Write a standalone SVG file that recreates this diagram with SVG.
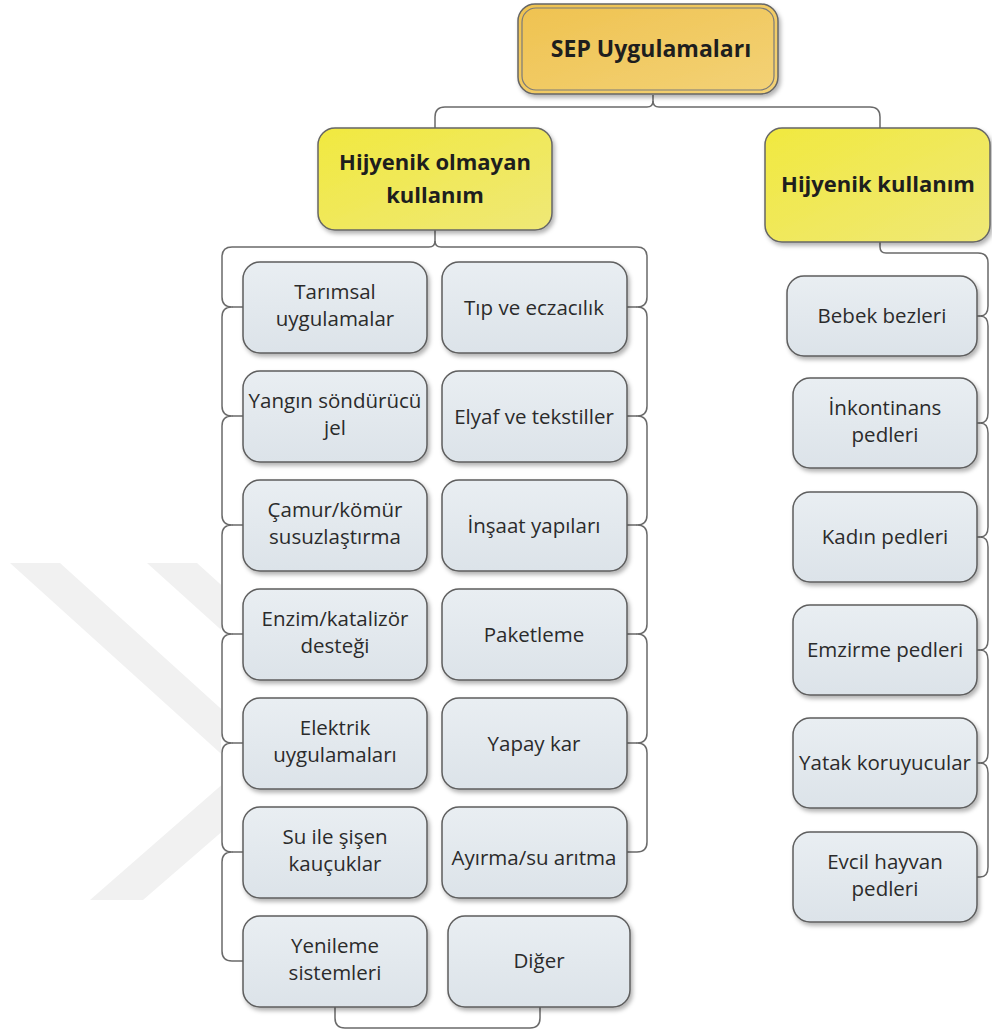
<svg xmlns="http://www.w3.org/2000/svg" width="992" height="1034" viewBox="0 0 992 1034">
  <defs>
    <linearGradient id="gGold" x1="0" y1="0" x2="1" y2="1">
      <stop offset="0" stop-color="#efc24f"/>
      <stop offset="1" stop-color="#f3d277"/>
    </linearGradient>
    <linearGradient id="gYellow" x1="0" y1="0" x2="1" y2="1">
      <stop offset="0" stop-color="#f1e93f"/>
      <stop offset="1" stop-color="#efe877"/>
    </linearGradient>
    <linearGradient id="gLeaf" x1="0" y1="0" x2="0" y2="1">
      <stop offset="0" stop-color="#e9eef2"/>
      <stop offset="1" stop-color="#dce3e9"/>
    </linearGradient>
    <filter id="shadow" x="-10%" y="-10%" width="130%" height="130%">
      <feDropShadow dx="2" dy="3" stdDeviation="2" flood-color="#000" flood-opacity="0.3"/>
    </filter>
    <clipPath id="wmClip">
      <rect x="0" y="0" width="221" height="1034"/>
    </clipPath>
  </defs>
  <style>
    .leaf { fill: url(#gLeaf); stroke: #5e5e5e; stroke-width: 1.5; filter: url(#shadow); }
    .branch { fill: url(#gYellow); stroke: #666; stroke-width: 1.5; filter: url(#shadow); }
    .root { fill: url(#gGold); stroke: #666; stroke-width: 1.5; filter: url(#shadow); }
    .rootInner { fill: none; stroke: #7a7a7a; stroke-width: 1.2; }
    .lt { font-family: "Open Sans", "Noto Sans", sans-serif; font-size: 20.5px; fill: #2b2b2b; text-anchor: middle; }
    .bt { font-family: "Open Sans", "Noto Sans", sans-serif; font-size: 22px; font-weight: bold; fill: #1e1e1e; text-anchor: middle; }
    .rt { font-family: "Open Sans", "Noto Sans", sans-serif; font-size: 23px; font-weight: bold; fill: #1e1e1e; text-anchor: middle; }
    .wire { fill: none; stroke: #6a6a6a; stroke-width: 1.5; stroke-linejoin: round; }
  </style>

  <rect x="0" y="0" width="992" height="1034" fill="#ffffff"/>

  <!-- faint background mark -->
  <g id="watermark" clip-path="url(#wmClip)" fill="#f1f1f1">
    <polygon points="10,563 60,563 240,726 240,771"/>
    <polygon points="147,563 197,563 240,602 240,647"/>
    <polygon points="90,900 143,900 240,816 240,769"/>
  </g>

  <!-- connectors -->
  <g id="connectors" class="wire">
    <!-- root to branches -->
    <path d="M653,95 V101 Q653,107 647,107 H445 Q435,107 435,117 V128"/>
    <path d="M653,101 Q653,107 659,107 H870 Q880,107 880,117 V128"/>
    <!-- left branch, left trunk -->
    <path d="M435,230 V241 Q435,247 429,247 H232 Q222,247 222,257
             V297 Q222,307 232,307 Q222,307 222,317
             V406 Q222,416 232,416 Q222,416 222,426
             V515 Q222,525 232,525 Q222,525 222,535
             V624 Q222,634 232,634 Q222,634 222,644
             V733 Q222,743 232,743 Q222,743 222,753
             V842 Q222,852 232,852 Q222,852 222,862
             V951 Q222,961 232,961"/>
    <path d="M232,307 H243 M232,416 H243 M232,525 H243 M232,634 H243 M232,743 H243 M232,852 H243 M232,961 H243"/>
    <!-- left branch, right trunk -->
    <path d="M435,241 Q435,247 441,247 H637 Q647,247 647,257
             V297 Q647,307 637,307 Q647,307 647,317
             V406 Q647,416 637,416 Q647,416 647,426
             V515 Q647,525 637,525 Q647,525 647,535
             V624 Q647,634 637,634 Q647,634 647,644
             V733 Q647,743 637,743 Q647,743 647,753
             V842 Q647,852 637,852"/>
    <path d="M627,307 H637 M627,416 H637 M627,525 H637 M627,634 H637 M627,743 H637 M627,852 H637"/>
    <!-- bottom link -->
    <path d="M335,1007 V1018 Q335,1028 345,1028 H530 Q540,1028 540,1018 V1007"/>
    <!-- right branch trunk -->
    <path d="M880,242 V247 Q880,253 886,253 H978 Q988,253 988,263
             V306 Q988,316 980,316 Q988,316 988,326
             V413 Q988,423 980,423 Q988,423 988,433
             V527 Q988,537 980,537 Q988,537 988,547
             V640 Q988,650 980,650 Q988,650 988,660
             V753 Q988,763 980,763 Q988,763 988,773
             V867 Q988,877 980,877"/>
    <path d="M977,316 H980 M977,423 H980 M977,537 H980 M977,650 H980 M977,763 H980 M977,877 H980"/>
  </g>

  <!-- root -->
  <g id="n-root">
    <rect class="root" x="518" y="4" width="260" height="90" rx="17"/>
    <rect class="rootInner" x="522" y="8" width="252" height="82" rx="14"/>
    <text class="rt" x="651" y="57">SEP Uygulamaları</text>
  </g>

  <!-- branches -->
  <g id="n-nonhygienic">
    <rect class="branch" x="318" y="128" width="234" height="102" rx="17"/>
    <text class="bt" x="435" y="170">Hijyenik olmayan</text>
    <text class="bt" x="435" y="203">kullanım</text>
  </g>
  <g id="n-hygienic">
    <rect class="branch" x="765" y="128" width="225" height="114" rx="17"/>
    <text class="bt" x="878" y="192">Hijyenik kullanım</text>
  </g>

  <!-- left column -->
  <g id="n-tarimsal">
    <rect class="leaf" x="243" y="262" width="184" height="91" rx="17"/>
    <text class="lt" x="335" y="299">Tarımsal</text>
    <text class="lt" x="335" y="326">uygulamalar</text>
  </g>
  <g id="n-yangin">
    <rect class="leaf" x="243" y="371" width="184" height="91" rx="17"/>
    <text class="lt" x="335" y="408">Yangın söndürücü</text>
    <text class="lt" x="335" y="435">jel</text>
  </g>
  <g id="n-camur">
    <rect class="leaf" x="243" y="480" width="184" height="91" rx="17"/>
    <text class="lt" x="335" y="517">Çamur/kömür</text>
    <text class="lt" x="335" y="544">susuzlaştırma</text>
  </g>
  <g id="n-enzim">
    <rect class="leaf" x="243" y="589" width="184" height="91" rx="17"/>
    <text class="lt" x="335" y="626">Enzim/katalizör</text>
    <text class="lt" x="335" y="653">desteği</text>
  </g>
  <g id="n-elektrik">
    <rect class="leaf" x="243" y="698" width="184" height="91" rx="17"/>
    <text class="lt" x="335" y="735">Elektrik</text>
    <text class="lt" x="335" y="762">uygulamaları</text>
  </g>
  <g id="n-su">
    <rect class="leaf" x="243" y="807" width="184" height="91" rx="17"/>
    <text class="lt" x="335" y="844">Su ile şişen</text>
    <text class="lt" x="335" y="871">kauçuklar</text>
  </g>
  <g id="n-yenileme">
    <rect class="leaf" x="243" y="916" width="184" height="91" rx="17"/>
    <text class="lt" x="335" y="953">Yenileme</text>
    <text class="lt" x="335" y="980">sistemleri</text>
  </g>

  <!-- right column of left branch -->
  <g id="n-tip">
    <rect class="leaf" x="442" y="262" width="185" height="91" rx="17"/>
    <text class="lt" x="534" y="315">Tıp ve eczacılık</text>
  </g>
  <g id="n-elyaf">
    <rect class="leaf" x="442" y="371" width="185" height="91" rx="17"/>
    <text class="lt" x="534" y="424">Elyaf ve tekstiller</text>
  </g>
  <g id="n-insaat">
    <rect class="leaf" x="442" y="480" width="185" height="91" rx="17"/>
    <text class="lt" x="534" y="533">İnşaat yapıları</text>
  </g>
  <g id="n-paketleme">
    <rect class="leaf" x="442" y="589" width="185" height="91" rx="17"/>
    <text class="lt" x="534" y="642">Paketleme</text>
  </g>
  <g id="n-yapaykar">
    <rect class="leaf" x="442" y="698" width="185" height="91" rx="17"/>
    <text class="lt" x="534" y="751">Yapay kar</text>
  </g>
  <g id="n-ayirma">
    <rect class="leaf" x="442" y="807" width="185" height="91" rx="17"/>
    <text class="lt" x="534" y="865">Ayırma/su arıtma</text>
  </g>
  <g id="n-diger">
    <rect class="leaf" x="448" y="916" width="182" height="91" rx="17"/>
    <text class="lt" x="539" y="968">Diğer</text>
  </g>

  <!-- hygienic column -->
  <g id="n-bebek">
    <rect class="leaf" x="787" y="276" width="190" height="80" rx="17"/>
    <text class="lt" x="882" y="323">Bebek bezleri</text>
  </g>
  <g id="n-inkontinans">
    <rect class="leaf" x="793" y="378" width="184" height="90" rx="17"/>
    <text class="lt" x="885" y="415">İnkontinans</text>
    <text class="lt" x="885" y="442">pedleri</text>
  </g>
  <g id="n-kadin">
    <rect class="leaf" x="793" y="492" width="184" height="90" rx="17"/>
    <text class="lt" x="885" y="544">Kadın pedleri</text>
  </g>
  <g id="n-emzirme">
    <rect class="leaf" x="793" y="605" width="184" height="90" rx="17"/>
    <text class="lt" x="885" y="657">Emzirme pedleri</text>
  </g>
  <g id="n-yatak">
    <rect class="leaf" x="793" y="718" width="184" height="90" rx="17"/>
    <text class="lt" x="885" y="770">Yatak koruyucular</text>
  </g>
  <g id="n-evcil">
    <rect class="leaf" x="793" y="832" width="184" height="90" rx="17"/>
    <text class="lt" x="885" y="869">Evcil hayvan</text>
    <text class="lt" x="885" y="896">pedleri</text>
  </g>
</svg>
